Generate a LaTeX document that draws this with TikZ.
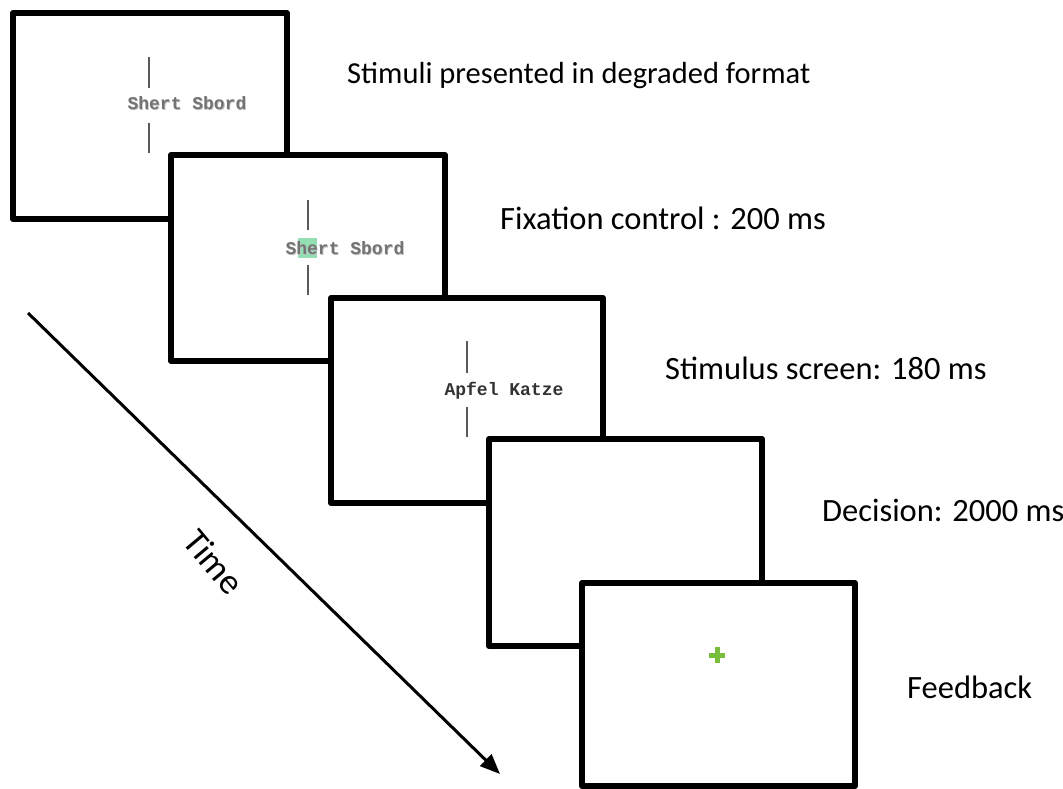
\documentclass[tikz,border=0pt]{standalone}
\usepackage{fontspec}
\setmainfont{Carlito}
\newfontfamily\monofont{Liberation Mono}
\usetikzlibrary{arrows.meta,calc}
\definecolor{plusgreen}{RGB}{120,190,60}
\definecolor{boxgreen}{RGB}{120,215,160}
\tikzset{
  x=1pt, y=-1pt,
  screen/.style={draw=black, line width=6pt, fill=white, line join=round},
  fixbar/.style={draw=black!65, line width=1.2pt},
  label/.style={anchor=west, font=\fontsize{32.5}{36}\selectfont, inner sep=0pt},
  stim/.style={font=\monofont\bfseries\fontsize{18}{20}\selectfont, inner sep=0pt},
  blurred/.style={stim, text=black!45},
}
\newcommand{\degraded}[3]{%
  \node[blurred, text=black!25] at ($(#1,#2)+(0.8,0.8)$) {#3};
  \node[blurred, text=black!55] at (#1,#2) {#3};
}
\begin{document}
\begin{tikzpicture}
\useasboundingbox (0,0) rectangle (1063,789);

% screen 1: degraded stimulus
\draw[screen] (13,13) rectangle (287,219);
\draw[fixbar] (149,57) -- (149,88);
\draw[fixbar] (149,123) -- (149,153);
\degraded{187}{103}{Shert Sbord}

% screen 2: fixation control
\draw[screen] (171,155) rectangle (445,361);
\fill[boxgreen, opacity=0.8] (298,238) rectangle (317,258);
\draw[fixbar] (308,200) -- (308,230);
\draw[fixbar] (308,265) -- (308,295);
\degraded{345}{248}{Shert Sbord}

% screen 3: stimulus
\draw[screen] (331,298) rectangle (603,503);
\draw[fixbar] (467,341) -- (467,373);
\draw[fixbar] (467,407) -- (467,437);
\node[stim, text=black!80] (word) at (504,391) {Apfel Katze};

% screen 4: decision
\draw[screen] (489,439) rectangle (762,646);

% screen 5: feedback
\draw[screen] (582,583) rectangle (855,786);
\node[fill=plusgreen, minimum width=16pt, minimum height=5pt, inner sep=0pt] (plush) at (717,655) {};
\node[fill=plusgreen, minimum width=5pt, minimum height=16pt, inner sep=0pt] (plusv) at (717,655) {};

% phase labels
\node[label, font=\fontsize{30.5}{34}\selectfont] (l1) at (347,76) {Stimuli presented in degraded format};
\node[label] (l2) at (500,218) {Fixation control : 200 ms};
\node[label] (l3) at (665,368) {Stimulus screen: 180 ms};
\node[label] (l4) at (822,510) {Decision: 2000 ms};
\node[label] (l5) at (907,687) {Feedback};

% time axis
\coordinate (t0) at (28,313);
\coordinate (t1) at (500,774);
\draw[line width=3pt, -{Triangle[length=20pt, width=16pt]}] (t0) -- (t1);
\node[font=\fontsize{36}{40}\selectfont, rotate=-50, inner sep=0pt] (time) at (214,562) {Time};
\end{tikzpicture}
\end{document}
